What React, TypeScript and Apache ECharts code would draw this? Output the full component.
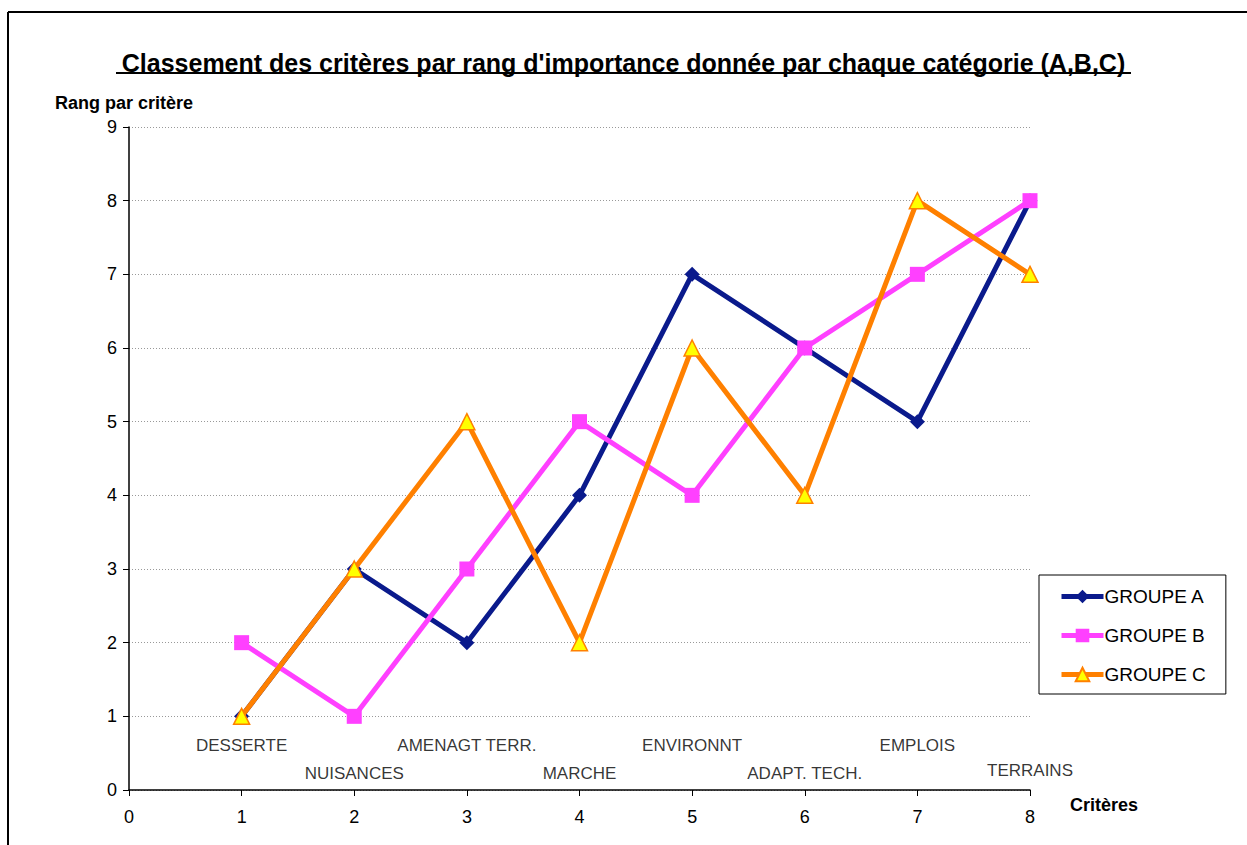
import React, { useEffect, useRef } from "react";
import * as echarts from "echarts";

const criteres = ["DESSERTE", "NUISANCES", "AMENAGT TERR.", "MARCHE", "ENVIRONNT", "ADAPT. TECH.", "EMPLOIS", "TERRAINS"];
const labelY = [0.61, 0.23, 0.61, 0.23, 0.61, 0.23, 0.61, 0.26];
const xs = [1, 2, 3, 4, 5, 6, 7, 8];
const groupeA = [1, 3, 2, 4, 7, 6, 5, 8];
const groupeB = [2, 1, 3, 5, 4, 6, 7, 8];
const groupeC = [1, 3, 5, 2, 6, 4, 8, 7];

const FONT = "'Liberation Sans', Arial, sans-serif";

export default function App() {
  const ref = useRef<HTMLDivElement>(null);
  useEffect(() => {
    if (!ref.current) return;
    const chart = echarts.init(ref.current, null, { renderer: "svg" });
    const pts = (arr: number[]) => arr.map((v, i) => [xs[i], v]);
    chart.setOption({
      animation: false,
      backgroundColor: "#ffffff",
      textStyle: { fontFamily: FONT },
      title: {
        text: "Classement des critères par rang d'importance donnée par chaque catégorie (A,B,C)",
        left: "center",
        top: 45,
        textStyle: { fontFamily: FONT, fontSize: 25, fontWeight: "bold", color: "#000" },
      },
      grid: { left: 129, right: 217, top: 127, bottom: 55 },
      legend: {
        data: ["GROUPE A", "GROUPE B", "GROUPE C"],
        orient: "vertical",
        left: 1039,
        top: 575,
        padding: [12, 20, 10, 20],
        itemGap: 20,
        itemWidth: 42,
        itemHeight: 17,
        borderColor: "#000",
        borderWidth: 1,
        lineStyle: { width: 5 },
        textStyle: { fontFamily: FONT, fontSize: 19, color: "#000", padding: [0, 0, 0, -4] },
      },
      xAxis: {
        type: "value",
        min: 0,
        max: 8,
        interval: 1,
        name: "Critères",
        nameLocation: "end",
        nameGap: 40,
        nameTextStyle: { fontFamily: FONT, fontSize: 18, fontWeight: "bold", color: "#000", verticalAlign: "top", padding: [6, 0, 0, 0] },
        axisLine: { lineStyle: { color: "#000", width: 1.5 } },
        axisTick: { show: true, length: 6, lineStyle: { color: "#000" } },
        axisLabel: { fontFamily: FONT, fontSize: 18, color: "#000", margin: 18 },
        splitLine: { show: false },
      },
      yAxis: {
        type: "value",
        min: 0,
        max: 9,
        interval: 1,
        name: "Rang par critère",
        nameLocation: "end",
        nameGap: 15,
        nameTextStyle: { fontFamily: FONT, fontSize: 18, fontWeight: "bold", color: "#000", align: "center", padding: [0, 10, 0, 0] },
        axisLine: { show: true, lineStyle: { color: "#000", width: 1.5 } },
        axisTick: { show: true, length: 6, lineStyle: { color: "#000" } },
        axisLabel: { fontFamily: FONT, fontSize: 18, color: "#000", margin: 12 },
        splitLine: { show: true, lineStyle: { color: "#999", type: [1, 2], width: 1 } },
      },
      series: [
        {
          name: "GROUPE A",
          type: "line",
          data: pts(groupeA),
          color: "#0A1A8C",
          lineStyle: { width: 5, color: "#0A1A8C" },
          symbol: "diamond",
          symbolSize: 15,
          itemStyle: { color: "#0A1A8C" },
          z: 3,
        },
        {
          name: "GROUPE B",
          type: "line",
          data: pts(groupeB),
          color: "#FF40FF",
          lineStyle: { width: 5, color: "#FF40FF" },
          symbol: "rect",
          symbolSize: 15,
          itemStyle: { color: "#FF40FF" },
          z: 4,
        },
        {
          name: "GROUPE C",
          type: "line",
          data: pts(groupeC),
          color: "#FF8000",
          lineStyle: { width: 5, color: "#FF8000" },
          symbol: "triangle",
          symbolSize: 16,
          itemStyle: { color: "#FFFF00", borderColor: "#FF8000", borderWidth: 1.5 },
          z: 5,
        },
        {
          name: "labels",
          type: "scatter",
          data: criteres.map((c, i) => ({ value: [xs[i], labelY[i]], name: c })),
          symbolSize: 1,
          itemStyle: { color: "rgba(0,0,0,0)" },
          silent: true,
          label: {
            show: true,
            position: "inside",
            formatter: (p: any) => p.name,
            fontFamily: FONT,
            fontSize: 17,
            color: "#000",
          },
        },
      ],
      graphic: [
        { type: "line", shape: { x1: 8, y1: 12, x2: 1247, y2: 12 }, style: { stroke: "#000", lineWidth: 2 } },
        { type: "line", shape: { x1: 8, y1: 12, x2: 8, y2: 845 }, style: { stroke: "#000", lineWidth: 2 } },
        { type: "line", shape: { x1: 116, y1: 73, x2: 1131, y2: 73 }, style: { stroke: "#000", lineWidth: 2 } },
      ],
    });
    return () => chart.dispose();
  }, []);
  return <div ref={ref} style={{ position: "absolute", left: 0, top: 0, width: 1247, height: 845 }} />;
}
